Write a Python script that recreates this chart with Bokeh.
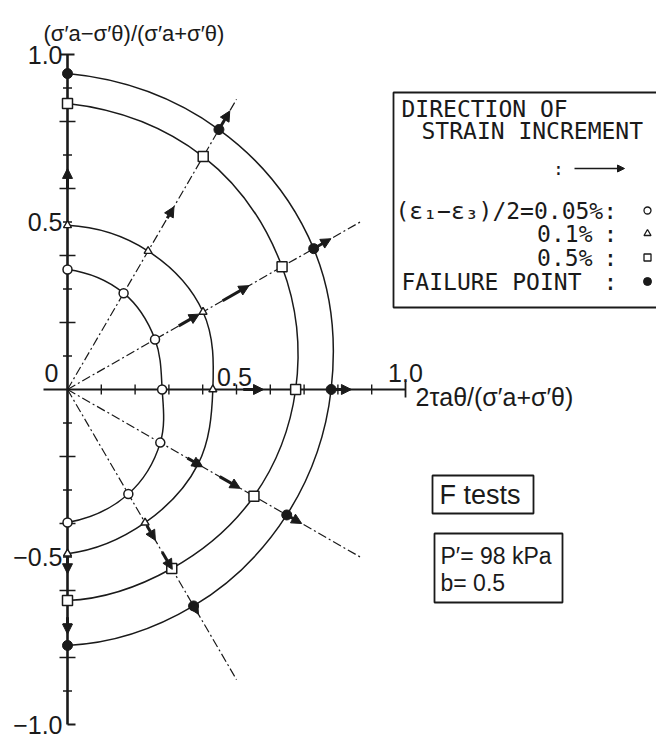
import numpy as np
from bokeh.plotting import figure
from bokeh.models import ColumnDataSource, Range1d, Arrow, NormalHead
from bokeh.core.properties import value
from bokeh.embed import file_html
from bokeh.resources import INLINE

# ---- data -----------------------------------------------------------------
# stress-path directions in the (2τ, σa-σθ) plane, degrees from the 2τ axis
path_angle = [90, 60, 30, 0, -30, -60, -90]

# normalised stress radius reached on each path
r_strain_005 = [0.358, 0.332, 0.299, 0.280, 0.317, 0.360, 0.397]   # (ε1-ε3)/2 = 0.05 %
r_strain_01 = [0.490, 0.477, 0.463, 0.430, 0.446, 0.459, 0.490]    # 0.1 %
r_strain_05 = [0.854, 0.803, 0.733, 0.675, 0.637, 0.617, 0.630]    # 0.5 %
r_failure = [0.943, 0.896, 0.841, 0.780, 0.749, 0.746, 0.764]      # failure

# strain-increment direction arrows: path angle, start radius, end radius
inc_angle = [90, 60, 60, 30, 30, 30, 0, 0, -30, -30, -30, -60, -60, -60, -90, -90]
inc_r0 = [0.60, 0.59, 0.91, 0.38, 0.53, 0.84, 0.52, 0.79, 0.41, 0.52, 0.75, 0.47, 0.56, 0.735, 0.50, 0.68]
inc_r1 = [0.66, 0.63, 0.96, 0.45, 0.62, 0.90, 0.58, 0.84, 0.46, 0.59, 0.80, 0.52, 0.62, 0.775, 0.55, 0.73]

# axis ticks
y_minor = [-0.9, -0.7, -0.5, -0.3, -0.1, 0.1, 0.3, 0.5, 0.7, 0.9]
y_major = [-0.8, -0.6, -0.4, -0.2, 0.2, 0.4, 0.6, 0.8]
x_ticks = [0.1, 0.2, 0.3, 0.4, 0.5, 0.6, 0.7, 0.8, 0.9]
y_label_vals = [1.0, 0.5, -0.5, -1.0]
y_label_text = ["1.0", "0.5", "\u22120.5", "\u22121.0"]
x_label_vals = [0.5, 1.0]
x_label_text = ["0.5", "1.0"]
ray_len = 1.0

INK = "#1a1a1a"
SANS = value("Liberation Sans")
MONO = value("DejaVu Sans Mono")

# ---- page geometry: origin at (67, 389) px, 338 px / unit across, 335 down ----
W, H = 656, 738
OX, OY, SX, SY = 67.0, 389.0, 338.0, 335.0


def dx(px):
    return (px - OX) / SX


def dy(py):
    return (OY - py) / SY


p = figure(width=W, height=H, output_backend="svg", toolbar_location=None,
           x_range=Range1d(dx(0), dx(W)), y_range=Range1d(dy(H), dy(0)),
           x_axis_location=None, y_axis_location=None,
           min_border=0, outline_line_color=None)
p.grid.visible = False
p.background_fill_color = "white"

ang = np.radians(path_angle)


def polar(r, a):
    r = np.asarray(r, float)
    return r * np.cos(a), r * np.sin(a)


# ---- radial stress paths (chain lines) ----
ray_idx = [1, 2, 3, 4, 5]
rx, ry = polar([ray_len] * len(ray_idx), ang[ray_idx])
p.segment(x0=[0] * len(ray_idx), y0=[0] * len(ray_idx), x1=rx, y1=ry,
          line_color=INK, line_width=1.2, line_dash="9 3 2 3")


# ---- contours of equal strain: smooth Bezier pieces through the points ----
def contour(r):
    r = np.asarray(r, float)
    n = len(r)
    slope = np.zeros(n)
    for i in range(n):
        a0 = ang[max(i - 1, 0)]
        a1 = ang[min(i + 1, n - 1)]
        slope[i] = (r[min(i + 1, n - 1)] - r[max(i - 1, 0)]) / (a1 - a0)
    xs0, ys0, xs1, ys1, c0x, c0y, c1x, c1y = ([] for _ in range(8))
    for i in range(n - 1):
        t0, t1 = ang[i], ang[i + 1]
        d = t1 - t0
        k = 4.0 / 3.0 * np.tan(d / 4.0)
        p0 = np.array([r[i] * np.cos(t0), r[i] * np.sin(t0)])
        p1 = np.array([r[i + 1] * np.cos(t1), r[i + 1] * np.sin(t1)])
        er0, et0 = np.array([np.cos(t0), np.sin(t0)]), np.array([-np.sin(t0), np.cos(t0)])
        er1, et1 = np.array([np.cos(t1), np.sin(t1)]), np.array([-np.sin(t1), np.cos(t1)])
        q0 = p0 + slope[i] * d / 3.0 * er0 + k * r[i] * et0
        q1 = p1 - slope[i + 1] * d / 3.0 * er1 - k * r[i + 1] * et1
        xs0.append(p0[0]); ys0.append(p0[1]); xs1.append(p1[0]); ys1.append(p1[1])
        c0x.append(q0[0]); c0y.append(q0[1]); c1x.append(q1[0]); c1y.append(q1[1])
    p.bezier(x0=xs0, y0=ys0, x1=xs1, y1=ys1, cx0=c0x, cy0=c0y, cx1=c1x, cy1=c1y,
             line_color=INK, line_width=1.5)


for level in (r_strain_005, r_strain_01, r_strain_05, r_failure):
    contour(level)

# ---- axes ----
p.segment(x0=[0], y0=[-1.0], x1=[0], y1=[1.0], line_color=INK, line_width=2.6)
p.segment(x0=[dx(43)], y0=[0], x1=[1.0], y1=[0], line_color=INK, line_width=1.8)

big, small = 8.0 / SX, 4.5 / SX
p.segment(x0=[-big] * len(y_major), y0=y_major, x1=[big] * len(y_major), y1=y_major,
          line_color=INK, line_width=1.6)
p.segment(x0=[-small] * len(y_minor), y0=y_minor, x1=[small] * len(y_minor), y1=y_minor,
          line_color=INK, line_width=1.4)
p.segment(x0=[-7 / SX, 0], y0=[1.0, -1.0], x1=[7 / SX, 8 / SX], y1=[1.0, -1.0],
          line_color=INK, line_width=1.8)
xt = 5.0 / SY
p.segment(x0=x_ticks, y0=[-xt] * len(x_ticks), x1=x_ticks, y1=[xt] * len(x_ticks),
          line_color=INK, line_width=1.4)
p.segment(x0=[1.0], y0=[-8 / SY], x1=[1.0], y1=[8 / SY], line_color=INK, line_width=1.8)

# ---- strain-increment arrows ----
ia = np.radians(inc_angle)
ax0, ay0 = polar(inc_r0, ia)
ax1, ay1 = polar(inc_r1, ia)
arr_src = ColumnDataSource(dict(x0=ax0, y0=ay0, x1=ax1, y1=ay1))
p.add_layout(Arrow(source=arr_src, x_start="x0", y_start="y0", x_end="x1", y_end="y1",
                   line_color=INK, line_width=3,
                   end=NormalHead(size=10, fill_color=INK, line_color=INK, line_width=1)))

# ---- markers ----
mx, my = polar(r_strain_005, ang)
p.scatter(mx, my, marker="circle", size=9, fill_color="white", line_color=INK, line_width=1.5)
mx, my = polar(r_strain_01, ang)
p.scatter(mx, my, marker="triangle", size=8, fill_color="white", line_color=INK, line_width=1.4)
mx, my = polar(r_strain_05, ang)
p.scatter(mx, my, marker="square", size=10, fill_color="white", line_color=INK, line_width=1.5)
mx, my = polar(r_failure, ang)
p.scatter(mx, my, marker="circle", size=10, fill_color=INK, line_color=INK)

# ---- tick labels and axis titles ----
p.text(x=[dx(62)] * len(y_label_vals), y=y_label_vals, text=y_label_text,
       text_font=SANS, text_font_size="25px", text_color=INK,
       text_align="right", text_baseline="middle")
p.text(x=[dx(58)], y=[dy(372)], text=["0"], text_font=SANS, text_font_size="25px",
       text_color=INK, text_align="right", text_baseline="middle")
p.text(x=[dx(234), dx(405)], y=[dy(376), dy(372)], text=x_label_text,
       text_font=SANS, text_font_size="25px", text_color=INK,
       text_align="center", text_baseline="middle")
p.text(x=[dx(43)], y=[dy(33)], text=["(\u03c3\u2032a\u2212\u03c3\u2032\u03b8)/(\u03c3\u2032a+\u03c3\u2032\u03b8)"],
       text_font=SANS, text_font_size="22px", text_color=INK,
       text_align="left", text_baseline="middle")
p.text(x=[dx(415)], y=[dy(396)], text=["2\u03c4a\u03b8/(\u03c3\u2032a+\u03c3\u2032\u03b8)"],
       text_font=SANS, text_font_size="25px", text_color=INK,
       text_align="left", text_baseline="middle")

# ---- key box ----
p.quad(left=[dx(393)], right=[dx(690)], top=[dy(92)], bottom=[dy(307)],
       fill_color=None, line_color=INK, line_width=1.8)
p.text(x=[dx(401), dx(421)], y=[dy(108), dy(130)],
       text=["DIRECTION OF", "STRAIN INCREMENT"],
       text_font=MONO, text_font_size="23px", text_color=INK,
       text_align="left", text_baseline="middle")
p.text(x=[dx(558)], y=[dy(168)], text=[":"], text_font=MONO, text_font_size="18px",
       text_color=INK, text_align="center", text_baseline="middle")
key_arrow = ColumnDataSource(dict(x0=[dx(574)], y0=[dy(168)], x1=[dx(624)], y1=[dy(168)]))
p.add_layout(Arrow(source=key_arrow, x_start="x0", y_start="y0", x_end="x1", y_end="y1",
                   line_color=INK, line_width=1.6,
                   end=NormalHead(size=7, fill_color=INK, line_color=INK, line_width=1)))
p.text(x=[dx(395)], y=[dy(210)], text=["(\u03b5\u2081\u2212\u03b5\u2083)/2=0.05%:"],
       text_font=MONO, text_font_size="23px", text_color=INK,
       text_align="left", text_baseline="middle")
p.text(x=[dx(592), dx(592)], y=[dy(233), dy(257)], text=["0.1%", "0.5%"],
       text_font=MONO, text_font_size="23px", text_color=INK,
       text_align="right", text_baseline="middle")
p.text(x=[dx(401)], y=[dy(281)], text=["FAILURE POINT"],
       text_font=MONO, text_font_size="23px", text_color=INK,
       text_align="left", text_baseline="middle")
p.text(x=[dx(610)] * 3, y=[dy(233), dy(257), dy(281)], text=[":", ":", ":"],
       text_font=MONO, text_font_size="23px", text_color=INK,
       text_align="center", text_baseline="middle")
kx = dx(647)
p.scatter([kx], [dy(210)], marker="circle", size=7, fill_color="white", line_color=INK, line_width=1.3)
p.scatter([kx], [dy(233)], marker="triangle", size=7, fill_color="white", line_color=INK, line_width=1.3)
p.scatter([kx], [dy(257)], marker="square", size=7, fill_color="white", line_color=INK, line_width=1.3)
p.scatter([kx], [dy(281)], marker="circle", size=8, fill_color=INK, line_color=INK)

# ---- test condition boxes ----
p.quad(left=[dx(432)], right=[dx(533)], top=[dy(475)], bottom=[dy(513)],
       fill_color=None, line_color=INK, line_width=1.8)
p.text(x=[dx(439)], y=[dy(494)], text=["F tests"], text_font=SANS, text_font_size="27px",
       text_color=INK, text_align="left", text_baseline="middle")
p.quad(left=[dx(434)], right=[dx(562)], top=[dy(533)], bottom=[dy(602)],
       fill_color=None, line_color=INK, line_width=1.8)
p.text(x=[dx(440), dx(440)], y=[dy(555), dy(582)], text=["P\u2032= 98 kPa", "b= 0.5"],
       text_font=SANS, text_font_size="23px", text_color=INK,
       text_align="left", text_baseline="middle")

open("out.html", "w").write(file_html(p, INLINE))
